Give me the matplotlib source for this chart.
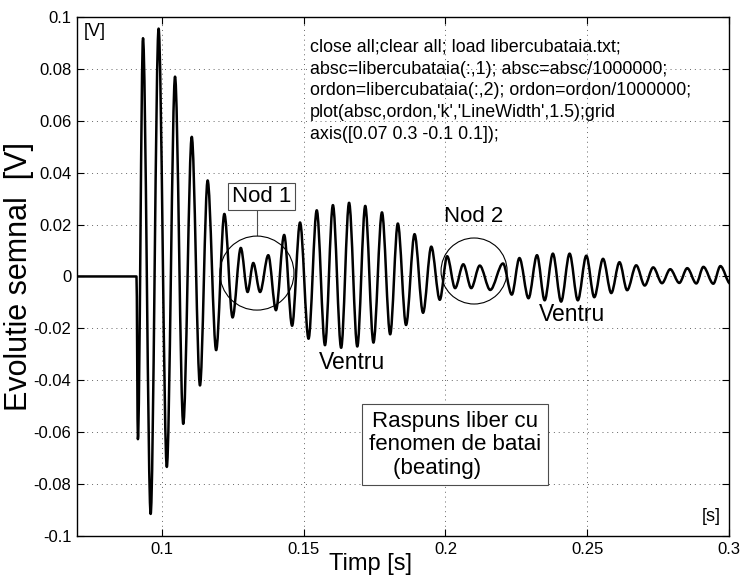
import matplotlib
matplotlib.use("Agg")
import matplotlib.pyplot as plt
from matplotlib.path import Path
from matplotlib.patches import PathPatch, Ellipse

plt.rcParams['font.family'] = ['Liberation Sans', 'DejaVu Sans']

# extremele semnalului: timp [s], amplitudine [V]
t_ext = [0.0700, 0.0910,
         0.0915, 0.0933, 0.0960, 0.0988, 0.1017, 0.1046, 0.1075, 0.1105,
         0.1134, 0.1161, 0.1191, 0.1220, 0.1249, 0.1278, 0.1302, 0.1322,
         0.1346, 0.1375, 0.1402, 0.1431, 0.1459, 0.1487, 0.1517, 0.1546,
         0.1575, 0.1603, 0.1632, 0.1660, 0.1689, 0.1717, 0.1746, 0.1776,
         0.1805, 0.1832, 0.1861, 0.1891, 0.1921, 0.1950, 0.1980, 0.2006,
         0.2034, 0.2063, 0.2091, 0.2121, 0.2158, 0.2203, 0.2234, 0.2261,
         0.2293, 0.2323, 0.2350, 0.2379, 0.2408, 0.2438, 0.2467, 0.2497,
         0.2525, 0.2556, 0.2585, 0.2614, 0.2641, 0.2673, 0.2703, 0.2733,
         0.2764, 0.2793, 0.2825, 0.2853, 0.2885, 0.2910, 0.2945, 0.2970,
         0.3005]
v_ext = [0.0, 0.0,
         -0.0627, 0.0918, -0.0915, 0.0955, -0.0734, 0.0770, -0.0568, 0.0538,
         -0.0420, 0.0370, -0.0284, 0.0241, -0.0158, 0.0110, -0.0060, 0.0052,
         -0.0060, 0.0082, -0.0130, 0.0160, -0.0190, 0.0208, -0.0240, 0.0255,
         -0.0265, 0.0275, -0.0275, 0.0284, -0.0270, 0.0272, -0.0255, 0.0247,
         -0.0223, 0.0204, -0.0187, 0.0163, -0.0140, 0.0115, -0.0090, 0.0078,
         -0.0045, 0.0047, -0.0045, 0.0042, -0.0052, 0.0050, -0.0070, 0.0071,
         -0.0084, 0.0082, -0.0092, 0.0088, -0.0097, 0.0088, -0.0092, 0.0080,
         -0.0080, 0.0068, -0.0064, 0.0055, -0.0053, 0.0043, -0.0035, 0.0035,
         -0.0026, 0.0028, -0.0025, 0.0032, -0.0027, 0.0037, -0.0028, 0.0040,
         -0.0028]

x_ticks = [0.1, 0.15, 0.2, 0.25, 0.3]
x_labels = ['0.1', '0.15', '0.2', '0.25', '0.3']
y_ticks = [-0.1, -0.08, -0.06, -0.04, -0.02, 0, 0.02, 0.04, 0.06, 0.08, 0.1]
y_labels = ['-0.1', '-0.08', '-0.06', '-0.04', '-0.02', '0',
            '0.02', '0.04', '0.06', '0.08', '0.1']

cod_matlab = ("close all;clear all; load libercubataia.txt;\n"
              "absc=libercubataia(:,1); absc=absc/1000000;\n"
              "ordon=libercubataia(:,2); ordon=ordon/1000000;\n"
              "plot(absc,ordon,'k','LineWidth',1.5);grid\n"
              "axis([0.07 0.3 -0.1 0.1]);")

fig = plt.figure(figsize=(7.4, 5.78), dpi=100)
ax = fig.add_axes([0.104, 0.0727, 0.881, 0.898])

# curba neteda intre extreme (tangente orizontale in varfuri)
verts = [(t_ext[0], v_ext[0])]
codes = [Path.MOVETO]
for i in range(len(t_ext) - 1):
    dt = t_ext[i + 1] - t_ext[i]
    verts += [(t_ext[i] + dt / 3, v_ext[i]),
              (t_ext[i + 1] - dt / 3, v_ext[i + 1]),
              (t_ext[i + 1], v_ext[i + 1])]
    codes += [Path.CURVE4] * 3
ax.add_patch(PathPatch(Path(verts, codes), fill=False, edgecolor='k',
                       linewidth=1.8, joinstyle='round', zorder=3))

ax.set_xlim(0.07, 0.3)
ax.set_ylim(-0.1, 0.1)
ax.set_xticks(x_ticks)
ax.set_xticklabels(x_labels)
ax.set_yticks(y_ticks)
ax.set_yticklabels(y_labels)
ax.tick_params(direction='in', top=True, right=True, length=5,
               labelsize=12, pad=4)
ax.grid(True, linestyle=(0, (1, 4)), color='0.4', linewidth=0.7)
for s in ax.spines.values():
    s.set_linewidth(1.0)

ax.set_xlabel('Timp [s]', fontsize=17, va='baseline')
ax.xaxis.set_label_coords(0.45, -0.0655)
ax.set_ylabel('Evolutie semnal  [V]', fontsize=22, va='bottom')
ax.yaxis.set_label_coords(-0.066, 0.5)

ax.text(0.0725, 0.0975, '[V]', fontsize=13, va='top', ha='left')
ax.text(0.2972, -0.0925, '[s]', fontsize=13, va='center', ha='right')

ax.text(0.1522, 0.0915, cod_matlab, fontsize=12.9, va='top', ha='left',
        linespacing=1.36, zorder=4)

# noduri
ax.add_patch(Ellipse((0.1335, 0.0013), 74 / 2833, 74 / 2595, fill=False,
                     edgecolor='k', linewidth=0.8, zorder=4))
ax.add_patch(Ellipse((0.2101, 0.0021), 66 / 2833, 66 / 2595, fill=False,
                     edgecolor='k', linewidth=0.8, zorder=4))
ax.plot([0.1334, 0.1334], [0.0265, 0.0160], color='0.3', linewidth=0.8)
ax.text(0.1351, 0.0308, 'Nod 1', fontsize=16, ha='center', va='center',
        bbox=dict(boxstyle='square,pad=0.15', facecolor='white',
                  edgecolor='0.3', linewidth=0.8), zorder=5)
ax.text(0.2098, 0.0230, 'Nod 2', fontsize=16, ha='center', va='center')

ax.text(0.1671, -0.0333, 'Ventru', fontsize=16.5, ha='center', va='center')
ax.text(0.2447, -0.0148, 'Ventru', fontsize=16.5, ha='center', va='center')

ax.text(0.2034, -0.0649, 'Raspuns liber cu\nfenomen de batai\n(beating)      ',
        fontsize=16, ha='center', va='center', multialignment='center',
        linespacing=1.15,
        bbox=dict(boxstyle='square,pad=0.3', facecolor='white',
                  edgecolor='0.3', linewidth=0.8), zorder=5)

fig.savefig('out.png', dpi=100, facecolor='white')
